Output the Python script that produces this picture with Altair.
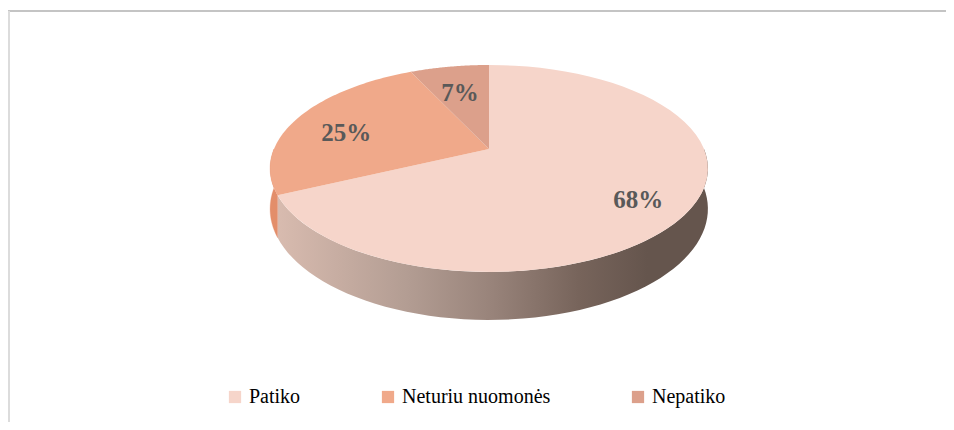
import altair as alt
import pandas as pd

# ---- data ----
categories = ["Patiko", "Neturiu nuomonės", "Nepatiko"]
values = [68, 25, 7]
colors = ["#f6d5ca", "#f0a98a", "#dca08b"]

df = pd.DataFrame({"idx": list(range(len(categories))), "cat": categories, "value": values})

W, H = 938, 414
# perspective-ellipse geometry (layout constants, chart-local pixels)
CX, CY, A, B, K, DEPTH = 481, 141, 215, 99.8, 0.188, 39
N = 60

xs = alt.Scale(domain=[0, W], nice=False, zero=False)
ys = alt.Scale(domain=[0, H], nice=False, zero=False, reverse=True)

base = alt.Chart(df).transform_joinaggregate(
    total="sum(value)"
).transform_window(
    cum="sum(value)", sort=[alt.SortField("idx")], frame=[None, 0]
).transform_calculate(
    a1="datum.cum / datum.total * 2 * PI",
    a0="(datum.cum - datum.value) / datum.total * 2 * PI",
)

# ---- side walls (front half only) ----
def side(cat, fill, stroke, stroke_opacity):
    return base.transform_filter(
        alt.datum.cat == cat
    ).transform_calculate(
        ts="max(datum.a0, PI / 2)", te="min(datum.a1, 3 * PI / 2)"
    ).transform_filter(
        "datum.te > datum.ts"
    ).transform_calculate(
        pts=f"sequence(0, {2 * N + 2})"
    ).transform_flatten(["pts"], as_=["i"]).transform_calculate(
        j=f"datum.i <= {N} ? datum.i : {2 * N + 1} - datum.i",
    ).transform_calculate(
        t=f"datum.ts + (datum.te - datum.ts) * datum.j / {N}",
    ).transform_calculate(
        d=f"1 + {K} * cos(datum.t)",
    ).transform_calculate(
        px=f"{CX} + {A} * sin(datum.t) / datum.d",
        py=f"{CY} - {B} * cos(datum.t) / datum.d + (datum.i > {N} ? {DEPTH} / datum.d : 0)",
    ).mark_line(
        interpolate="linear-closed", fill=fill, stroke=stroke,
        strokeWidth=0.5, strokeOpacity=stroke_opacity
    ).encode(
        x=alt.X("px:Q", scale=xs, axis=None),
        y=alt.Y("py:Q", scale=ys, axis=None),
        order=alt.Order("i:Q"),
    )

side_grad = alt.Gradient(
    gradient="linear",
    stops=[
        alt.GradientStop(color="#d8bbaf", offset=0),
        alt.GradientStop(color="#b39d93", offset=0.3),
        alt.GradientStop(color="#98837a", offset=0.5),
        alt.GradientStop(color="#77645b", offset=0.7),
        alt.GradientStop(color="#65554d", offset=0.86),
        alt.GradientStop(color="#65554d", offset=1),
    ],
    x1=0, x2=1, y1=0, y2=0,
)

side_patiko = side(categories[0], side_grad, "#8a7369", 0)
side_neturiu = side(categories[1], "#e38e6a", "#e38e6a", 0.6)

# ---- top faces ----
top = base.transform_calculate(
    pts=f"sequence(0, {N + 2})"
).transform_flatten(["pts"], as_=["i"]).transform_calculate(
    t=f"datum.a0 + (datum.a1 - datum.a0) * (datum.i - 1) / {N}",
    r="datum.i == 0 ? 0 : 1",
).transform_calculate(
    d=f"1 + {K} * datum.r * cos(datum.t)",
).transform_calculate(
    px=f"{CX} + {A} * datum.r * sin(datum.t) / datum.d",
    py=f"{CY} - {B} * datum.r * cos(datum.t) / datum.d",
).mark_line(interpolate="linear-closed", strokeWidth=0).encode(
    x=alt.X("px:Q", scale=xs, axis=None),
    y=alt.Y("py:Q", scale=ys, axis=None),
    order=alt.Order("i:Q"),
    fill=alt.Fill(
        "cat:N",
        scale=alt.Scale(domain=categories, range=colors),
        legend=alt.Legend(
            title=None, orient="none", direction="horizontal",
            legendX=217, legendY=379,
            symbolType="square", symbolSize=150, symbolStrokeWidth=0,
            labelFont="Liberation Serif", labelFontSize=20, labelColor="#000000",
            labelOffset=4, columnPadding=77, labelLimit=300,
        ),
    ),
)

# ---- percentage labels ----
labels = base.transform_calculate(
    mid="(datum.a0 + datum.a1) / 2",
).transform_calculate(
    d=f"1 + {K} * 0.75 * cos(datum.mid)",
).transform_calculate(
    px=f"{CX} + {A} * 0.75 * sin(datum.mid) / datum.d",
    py=f"{CY} - {B} * 0.75 * cos(datum.mid) / datum.d",
    lab="datum.value + '%'",
).mark_text(
    font="Liberation Serif", fontSize=25, fontWeight="bold", color="#595959",
    align="center", baseline="middle", dy=8, dx=2,
).encode(
    x=alt.X("px:Q", scale=xs, axis=None),
    y=alt.Y("py:Q", scale=ys, axis=None),
    text="lab:N",
)

# ---- frame lines (top and left edges of the chart box) ----
frame_top = alt.Chart(df).mark_rule(color="#c4c4c4", strokeWidth=2).encode(
    x=alt.value(0), x2=alt.value(W), y=alt.value(3)
)
frame_left = alt.Chart(df).mark_rule(color="#dcdcdc", strokeWidth=2).encode(
    x=alt.value(1), y=alt.value(3), y2=alt.value(H)
)

chart = alt.layer(
    frame_top, frame_left, side_patiko, side_neturiu, top, labels
).properties(
    width=W, height=H, padding=0, autosize=alt.AutoSizeParams(type="none")
).configure_view(strokeWidth=0).configure_legend(
    labelFont="Liberation Serif", labelFontSize=20, labelColor="#000000"
)

chart.save("out.html", embed_options={"renderer": "svg", "actions": False})
